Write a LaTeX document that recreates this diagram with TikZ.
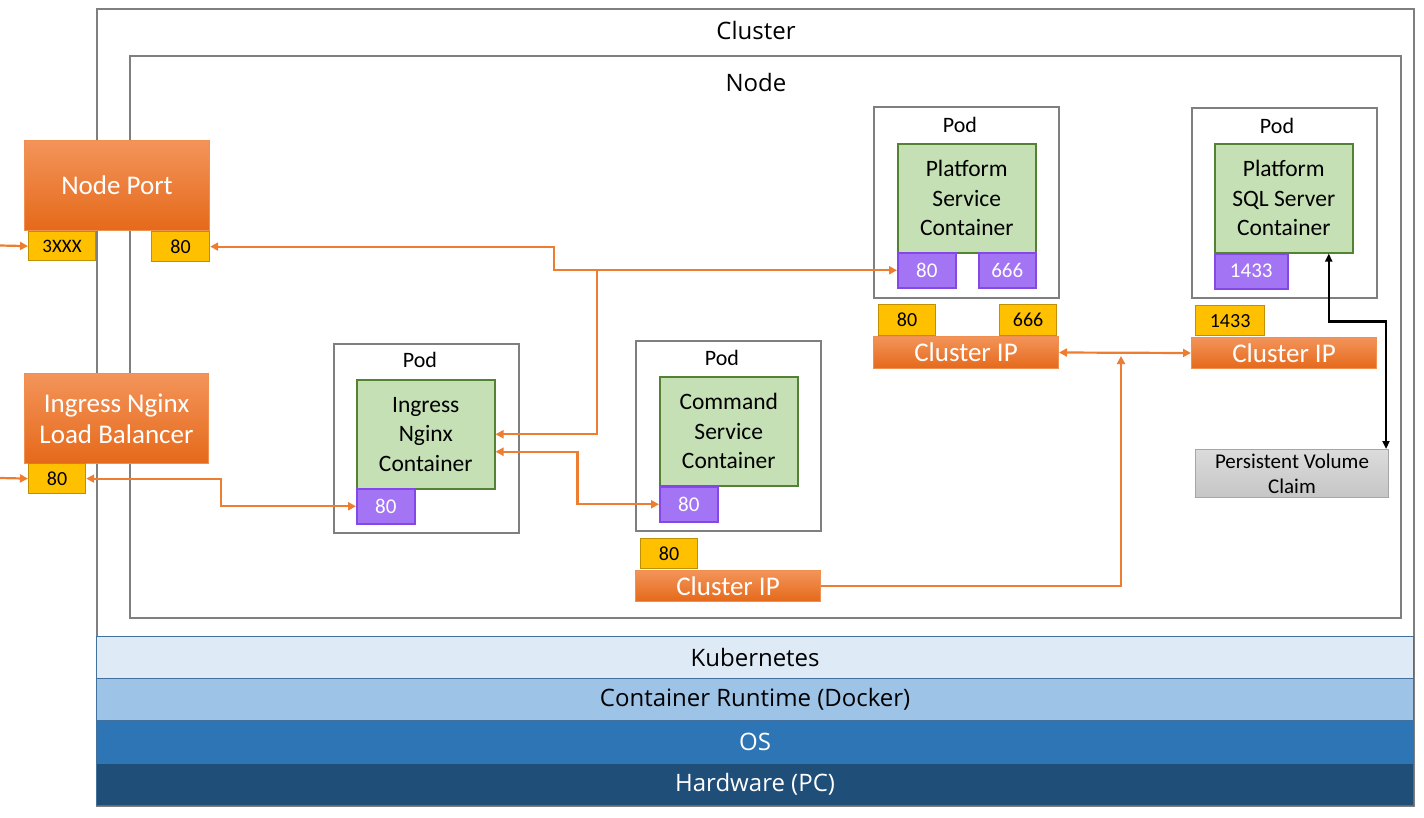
\documentclass[tikz,border=0pt]{standalone}
\usepackage{fontspec}
\setmainfont{Carlito}
\newfontfamily\segoe{Open Sans}
\usetikzlibrary{arrows.meta,calc,shapes.geometric}
\definecolor{frame}{HTML}{7F7F7F}
\definecolor{cgreen}{HTML}{C5E0B4}
\definecolor{cgreend}{HTML}{548235}
\definecolor{cpurple}{HTML}{A374F3}
\definecolor{cpurpled}{HTML}{8548E8}
\definecolor{cyellow}{HTML}{FFC000}
\definecolor{cyellowd}{HTML}{BF9000}
\definecolor{oline}{HTML}{ED7D31}
\definecolor{otop}{HTML}{F3945A}
\definecolor{obot}{HTML}{E5691A}
\definecolor{lay1}{HTML}{DEEBF7}
\definecolor{lay2}{HTML}{9DC3E6}
\definecolor{lay3}{HTML}{2E75B6}
\definecolor{lay4}{HTML}{1F4E79}
\definecolor{layd}{HTML}{41719C}
\tikzset{
  box/.style={draw=frame,line width=1.5pt,anchor=north west,inner sep=0pt},
  lbl/.style={inner sep=0pt,anchor=center},
  cont/.style={draw=cgreend,fill=cgreen,line width=1.5pt,anchor=north west,align=center,inner sep=0pt,font=\fontsize{23.5}{29.5}\selectfont},
  cport/.style={draw=cpurpled,fill=cpurple,line width=1.5pt,anchor=north west,text=white,inner sep=0pt,font=\fontsize{21}{24}\selectfont},
  sport/.style={draw=cyellowd,fill=cyellow,line width=1.2pt,anchor=north west,inner sep=0pt,font=\fontsize{20}{24}\selectfont},
  svc/.style={draw=oline!85,top color=otop,bottom color=obot,line width=1pt,anchor=north west,text=white,inner sep=0pt,align=center},
  pvcbox/.style={draw=gray!70,top color=gray!28,bottom color=gray!45,line width=1pt,anchor=north west,align=center,inner sep=0pt,font=\fontsize{21}{25}\selectfont},
  layer/.style={draw=layd,line width=1.2pt,anchor=north west,inner sep=0pt,minimum width=1317pt,font=\segoe\fontsize{24}{28}\selectfont},
  oarrow/.style={draw=oline,line width=2.2pt,arrows={Triangle[length=8pt,width=8pt]-Triangle[length=8pt,width=8pt]}},
  oto/.style={draw=oline,line width=2.2pt,-{Triangle[length=8pt,width=8pt]}},
  barrow/.style={draw=black,line width=2.2pt,arrows={Triangle[length=8pt,width=7pt]-Triangle[length=8pt,width=7pt]}},
}
\begin{document}
\begin{tikzpicture}[x=1pt,y=-1pt]
\useasboundingbox (0,0) rectangle (1424,817);
% cluster and node
\node[box,minimum width=1317pt,minimum height=797pt] (cluster) at (96,8) {};
\node[lbl,font=\segoe\fontsize{24}{28}\selectfont] (clusterlbl) at (756,30) {Cluster};
\node[box,minimum width=1271pt,minimum height=562pt] (node) at (129,55) {};
\node[lbl,font=\segoe\fontsize{24}{28}\selectfont] (nodelbl) at (756,82) {Node};
% layers
\node[layer,fill=lay1,minimum height=42pt] (k8s) at (96,636) {Kubernetes};
\node[layer,fill=lay2,minimum height=42pt] (runtime) at (96,678) {Container Runtime (Docker)};
\node[layer,fill=lay3,minimum height=43pt,text=white] (os) at (96,720) {OS};
\node[layer,fill=lay4,minimum height=42pt,text=white] (hw) at (96,763) {Hardware (PC)};
% Node Port
\node[svc,minimum width=185pt,minimum height=90pt,font=\fontsize{27}{31}\selectfont] (np) at (24,140) {Node Port};
\node[sport,minimum width=67pt,minimum height=29pt,font=\fontsize{19}{22}\selectfont] (np3x) at (28,231) {3XXX};
\node[sport,minimum width=58pt,minimum height=30pt] (np80) at (151,231) {80};
% Ingress LB
\node[svc,minimum width=184pt,minimum height=90pt,font=\fontsize{27}{31}\selectfont] (lb) at (24,373) {Ingress Nginx\\Load Balancer};
\node[sport,minimum width=57pt,minimum height=30pt] (lb80) at (28,463) {80};
% Ingress pod
\node[box,minimum width=185pt,minimum height=189pt] (ipod) at (333,343) {};
\node[lbl,font=\fontsize{22}{26}\selectfont] (ipodlbl) at (420,360) {Pod};
\node[cont,minimum width=138pt,minimum height=109pt] (ing) at (356,379) {Ingress\\Nginx\\Container};
\node[cport,minimum width=58pt,minimum height=35pt] (ig80) at (356,488) {80};
% Command pod
\node[box,minimum width=185pt,minimum height=190pt] (cpod) at (635,340) {};
\node[lbl,font=\fontsize{22}{26}\selectfont] (cpodlbl) at (722,358) {Pod};
\node[cont,minimum width=138pt,minimum height=109pt] (cmd) at (659,376) {Command\\Service\\Container};
\node[cport,minimum width=58pt,minimum height=35pt] (cm80) at (659,486) {80};
\node[sport,minimum width=57pt,minimum height=30pt] (cmp80) at (640,538) {80};
\node[svc,minimum width=185pt,minimum height=31pt,font=\fontsize{27}{31}\selectfont] (cmcip) at (635,570) {Cluster IP};
% Platform pod
\node[box,minimum width=185pt,minimum height=191pt] (ppod) at (873,106) {};
\node[lbl,font=\fontsize{22}{26}\selectfont] (ppodlbl) at (960,125) {Pod};
\node[cont,minimum width=138pt,minimum height=109pt] (plat) at (897,143) {Platform\\Service\\Container};
\node[cport,minimum width=58pt,minimum height=35pt] (pl80) at (897,252) {80};
\node[cport,minimum width=57pt,minimum height=35pt] (pl666) at (978,252) {666};
\node[sport,minimum width=57pt,minimum height=31pt] (plp80) at (878,304) {80};
\node[sport,minimum width=57pt,minimum height=31pt] (plp666) at (999,304) {666};
\node[svc,minimum width=185pt,minimum height=32pt,font=\fontsize{27}{31}\selectfont] (plcip) at (873,336) {Cluster IP};
% SQL pod
\node[box,minimum width=185pt,minimum height=190pt] (spod) at (1191,107) {};
\node[lbl,font=\fontsize{22}{26}\selectfont] (spodlbl) at (1277,126) {Pod};
\node[cont,minimum width=138pt,minimum height=109pt] (sql) at (1214,143) {Platform\\SQL Server\\Container};
\node[cport,minimum width=73pt,minimum height=35pt] (sq1433) at (1214,253) {1433};
\node[sport,minimum width=69pt,minimum height=30pt] (sqp1433) at (1195,305) {1433};
\node[svc,minimum width=185pt,minimum height=31pt,font=\fontsize{27}{31}\selectfont] (sqcip) at (1191,337) {Cluster IP};
% PVC
\node[pvcbox,minimum width=193pt,minimum height=48pt] (pvc) at (1195,449) {Persistent Volume\\Claim};
% external inputs
\coordinate (in1) at (0,245.5);
\coordinate (in2) at (0,478);
\draw[oto] (in1) -- (np3x.west);
\draw[oto] (in2) -- (lb80.west);
% connectors
\draw[oarrow] (np80.east) -- ++(344,0) |- (pl80.west);
\coordinate (j1) at (597,269.5);
\draw[oto] (j1) |- (ing.east);
\draw[oarrow] ($(ing.east)+(0,17.5)$) -- ++(82,0) |- (cm80.west);
\draw[oarrow] (lb80.east) -- ++(135,0) |- (ig80.west);
\draw[oarrow] (plcip.east) -- (sqcip.west);
\coordinate (j2) at (1121,356);
\draw[oto] (cmcip.east) -| (j2);
\draw[barrow] ($(sql.south)+(45,0)$) -- ++(0,68) -| ($(pvc.north east)+(-3,0)$);
\end{tikzpicture}
\end{document}
